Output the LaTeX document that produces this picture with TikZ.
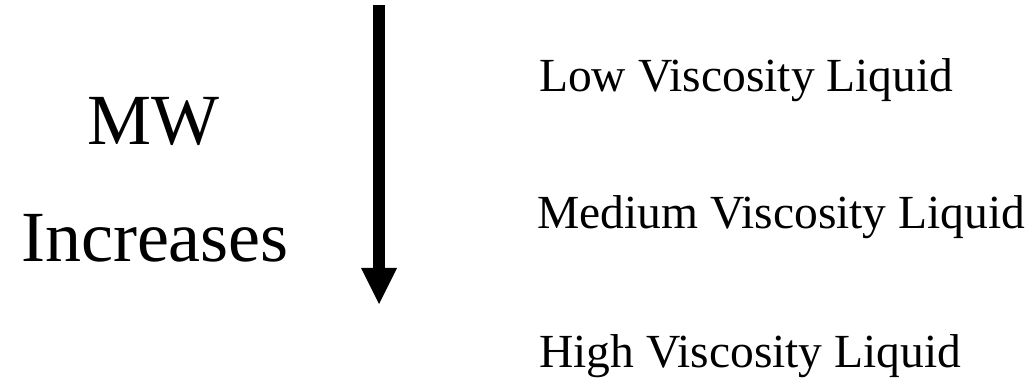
\documentclass[tikz,border=0pt]{standalone}
\usepackage{fontspec}
\setmainfont{Liberation Serif}
\begin{document}
\begin{tikzpicture}[x=1pt,y=-1pt,
  bigtxt/.style={inner sep=0pt,anchor=base,font=\fontsize{72}{80}\selectfont},
  liqtxt/.style={inner sep=0pt,anchor=base west,font=\fontsize{47.5}{52}\selectfont}]
\useasboundingbox (0,0) rectangle (1036,379);
\node[bigtxt] (mw) at (153,145) {MW};
\node[bigtxt] (inc) at (155,262) {Increases};
\coordinate (atop) at (379,5);
\coordinate (abase) at (379,268);
\coordinate (atip) at (379,304);
\fill[black] (373,5) rectangle (385,269);
\fill[black] (361,268) -- (397,268) -- (atip) -- cycle;
\node[liqtxt] (low) at (539,92) {Low Viscosity Liquid};
\node[liqtxt] (med) at (537,229) {Medium Viscosity Liquid};
\node[liqtxt] (high) at (539,367) {High Viscosity Liquid};
\end{tikzpicture}
\end{document}
